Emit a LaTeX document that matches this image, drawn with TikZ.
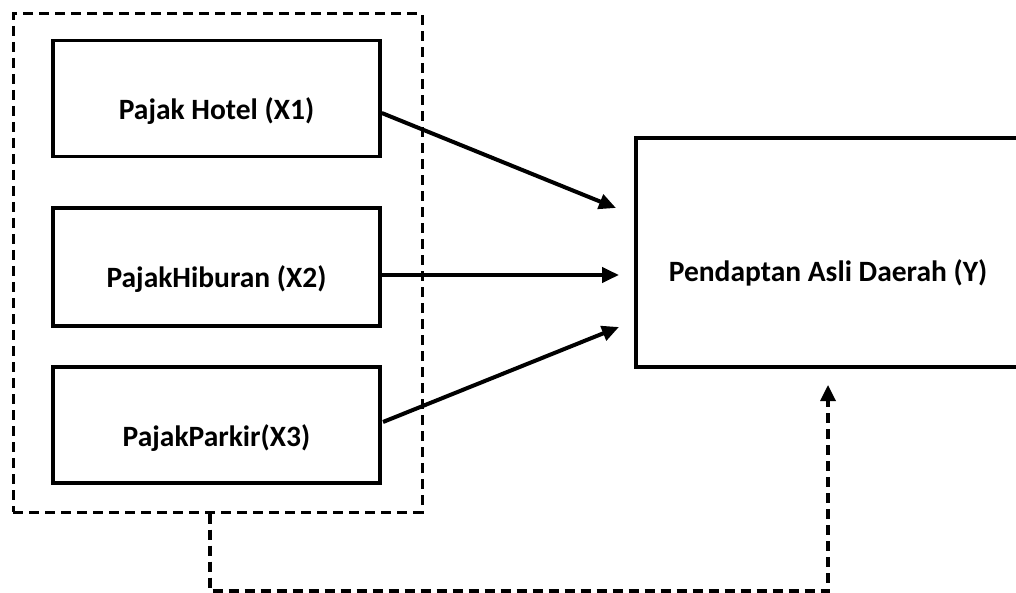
\documentclass[tikz,border=0pt]{standalone}
\usepackage{fontspec}
\setmainfont{Carlito}
\usetikzlibrary{arrows.meta}
\begin{document}
\begin{tikzpicture}[x=1pt,y=-1pt,
  box/.style={draw=black,line width=3.6pt,rectangle,inner sep=0pt},
  lbl/.style={font=\fontsize{29.5}{34}\selectfont\bfseries,inner sep=0pt},
  arr/.style={line width=4pt,-{Triangle[length=17pt,width=15pt]}},
  dsh/.style={line width=3pt,dash pattern=on 10pt off 6pt},
  darr/.style={line width=3.3pt,dash pattern=on 10pt off 6pt,-{Triangle[length=16pt,width=15pt]}}]
\useasboundingbox (0,0) rectangle (1016,593);
% dashed group
\node[dsh,draw,rectangle,inner sep=0pt,minimum width=409pt,minimum height=498pt] (grp) at (217.5,263) {};
% boxes
\node[box,minimum width=327pt,minimum height=116pt] (x1) at (216.5,98.5) {};
\node[box,minimum width=327pt,minimum height=118pt] (x2) at (216.5,267) {};
\node[box,minimum width=327pt,minimum height=116pt] (x3) at (216.5,425) {};
\node[box,minimum width=384pt,minimum height=229pt] (y) at (828,252.5) {};
% labels
\node[lbl] (x1t) at (216.5,111) {Pajak Hotel (X1)};
\node[lbl] (x2t) at (216.5,279) {PajakHiburan (X2)};
\node[lbl] (x3t) at (216.5,438) {PajakParkir(X3)};
\node[lbl] (yt) at (828,273) {Pendaptan Asli Daerah (Y)};
% arrow ends
\coordinate (s1) at (x1.east |- 0,113);
\coordinate (e1) at (616,208);
\coordinate (s2) at (x2.east |- 0,275);
\coordinate (e2) at (619,275);
\coordinate (s3) at (383,422);
\coordinate (e3) at (619,327);
\draw[arr] (s1) -- (e1);
\draw[arr] (s2) -- (e2);
\draw[arr] (s3) -- (e3);
% dashed feedback
\coordinate (d0) at (grp.south -| 210,0);
\coordinate (d1) at (210,591);
\coordinate (d2) at (828,591);
\coordinate (d3) at (828,385);
\draw[darr] (d0) -- (d1) -- (d2) -- (d3);
\end{tikzpicture}
\end{document}
